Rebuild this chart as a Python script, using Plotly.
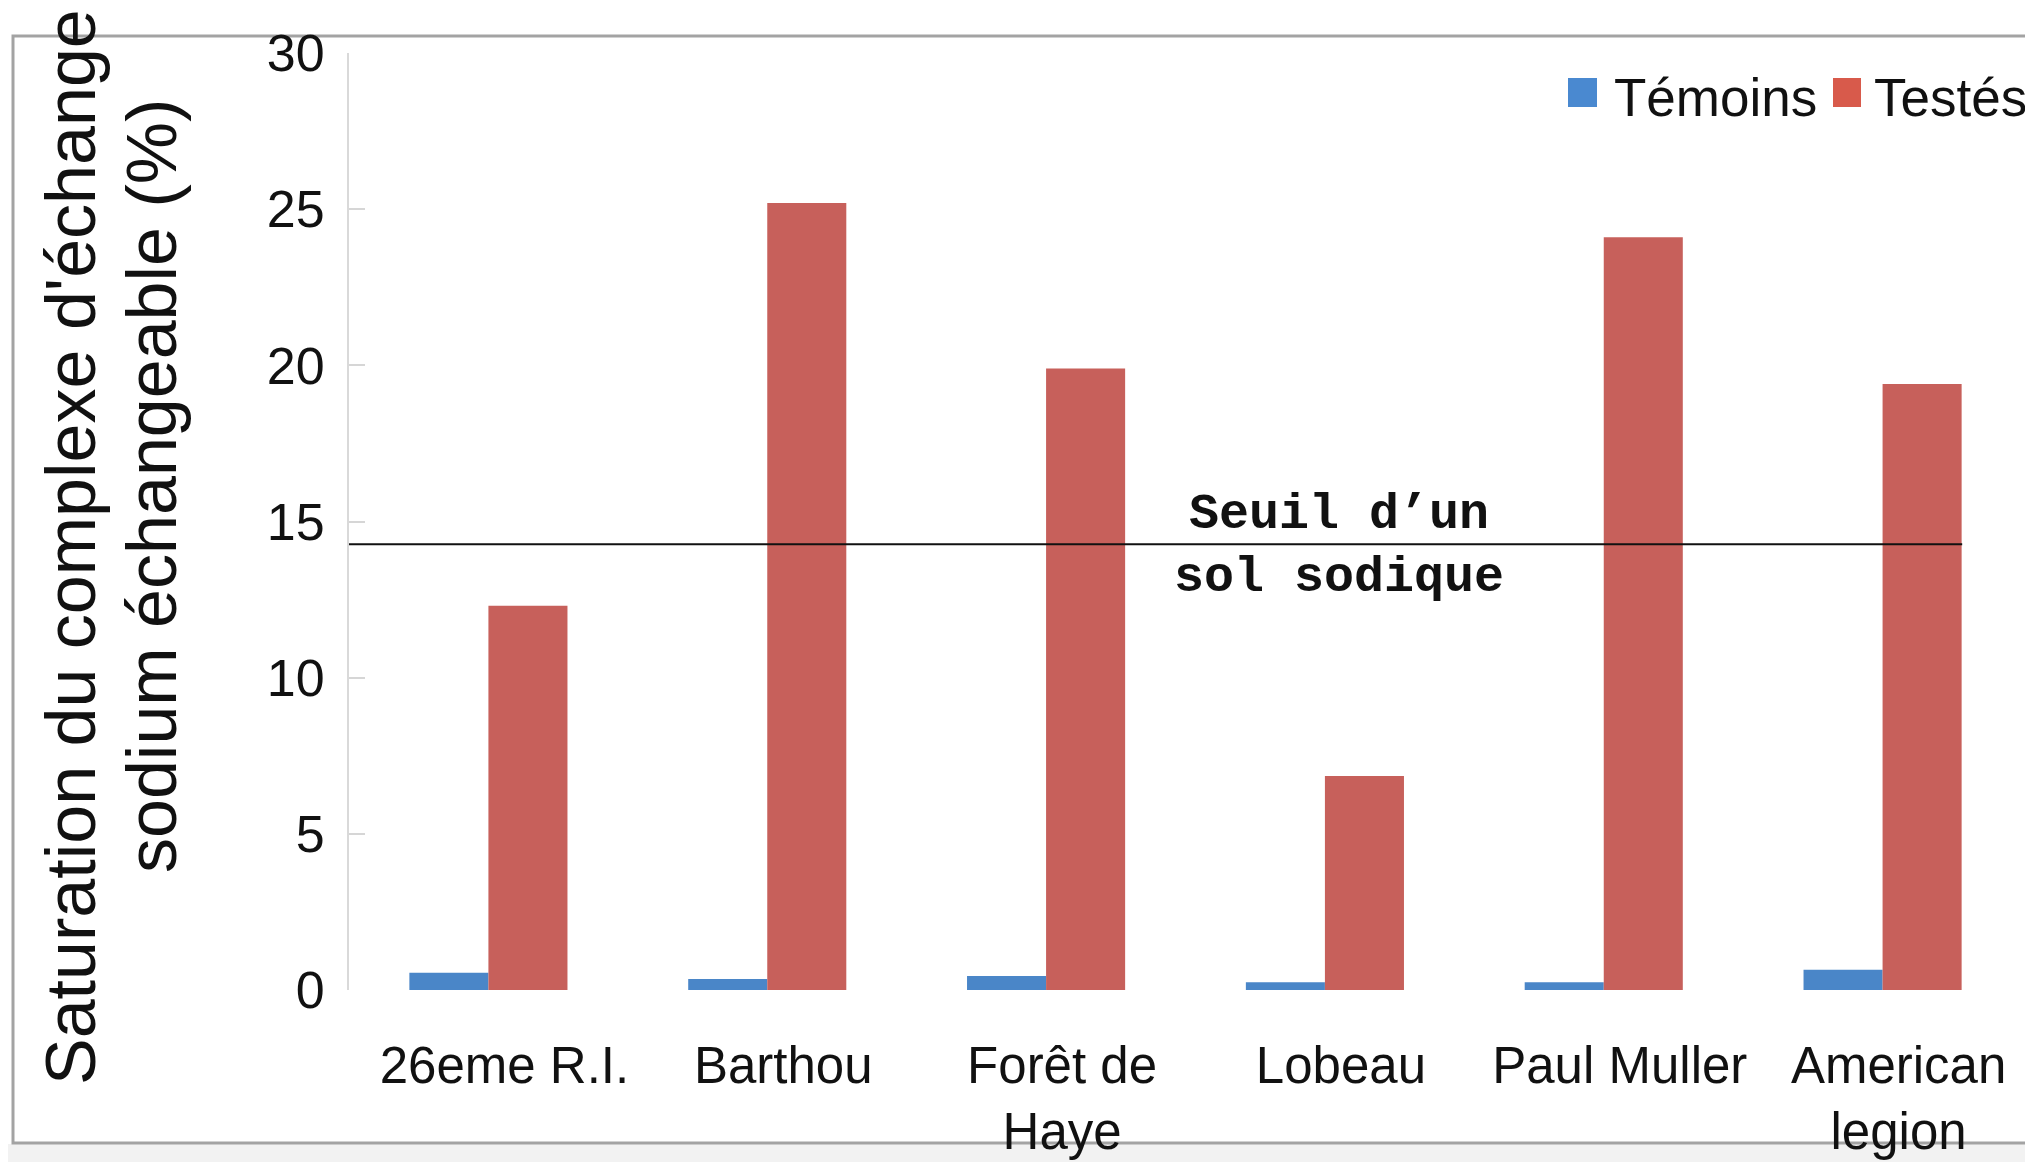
import plotly.graph_objects as go

categories = ["26eme R.I.", "Barthou", "Forêt de<br>Haye", "Lobeau", "Paul Muller", "American<br>legion"]
temoins = [0.55, 0.35, 0.45, 0.25, 0.25, 0.65]
testes = [12.3, 25.2, 19.9, 6.85, 24.1, 19.4]
series_names = ["Témoins", "Testés"]
threshold = 14.27
threshold_label = ["Seuil d’un", "sol sodique"]
y_ticks = [0, 5, 10, 15, 20, 25, 30]
y_title_lines = ["Saturation du complexe d'échange", "sodium échangeable (%)"]

BLUE = "#4A86C8"
RED = "#C7605B"
FONT = "Liberation Sans, Arial, sans-serif"

# page body has an 8px default margin; lay out in screen pixels and compensate
OFF = 8
W, H = 2033 - OFF, 1162 - OFF
SL, SR, ST, SB = 349, 2022, 53, 990  # plot area in screen pixels
L, T = SL - OFF, ST - OFF
R = W - (SR - OFF)
B = H - (SB - OFF)
pw, ph = SR - SL, SB - ST


def px(xs):
    return (xs - SL) / pw


def py(ys):
    return (SB - ys) / ph


fig = go.Figure()
fig.add_trace(go.Bar(x=categories, y=temoins, name=series_names[0],
                     marker=dict(color=BLUE, line=dict(width=0)), showlegend=False))
fig.add_trace(go.Bar(x=categories, y=testes, name=series_names[1],
                     marker=dict(color=RED, line=dict(width=0)), showlegend=False))

shapes = []
shapes.append(dict(type="rect", xref="paper", yref="paper", x0=px(-10), x1=px(2045),
                   y0=py(1175), y1=py(1144), fillcolor="#f2f2f2", line=dict(width=0), layer="below"))
shapes.append(dict(type="rect", xref="paper", yref="paper", x0=px(13), x1=px(2028),
                   y0=py(1143), y1=py(36), line=dict(color="#a3a3a3", width=3), layer="below"))
shapes.append(dict(type="line", xref="x", yref="y", x0=-0.751, x1=5.2855, y0=threshold, y1=threshold,
                   line=dict(color="#111111", width=2), layer="above"))
shapes.append(dict(type="rect", xref="paper", yref="paper", x0=px(1568), x1=px(1597),
                   y0=py(107), y1=py(78), fillcolor="#4A89D0", line=dict(width=0)))
shapes.append(dict(type="rect", xref="paper", yref="paper", x0=px(1833), x1=px(1861),
                   y0=py(107), y1=py(78), fillcolor="#D85A4B", line=dict(width=0)))

annotations = []
annotations.append(dict(text=series_names[0], xref="paper", yref="paper", x=px(1612), y=py(97),
                        xanchor="left", yanchor="middle", showarrow=False,
                        font=dict(family=FONT, size=53, color="#111111")))
annotations.append(dict(text=series_names[1], xref="paper", yref="paper", x=px(1872), y=py(97),
                        xanchor="left", yanchor="middle", showarrow=False,
                        font=dict(family=FONT, size=53, color="#111111")))
annotations.append(dict(text="<b>" + threshold_label[0] + "</b>", xref="x", yref="y", x=3.05, y=15.21,
                        xanchor="center", yanchor="middle", showarrow=False,
                        font=dict(family="Liberation Mono, Courier New, monospace", size=50, color="#111111")))
annotations.append(dict(text="<b>" + threshold_label[1] + "</b>", xref="x", yref="y", x=3.05, y=13.22,
                        xanchor="center", yanchor="middle", showarrow=False,
                        font=dict(family="Liberation Mono, Courier New, monospace", size=50, color="#111111")))
annotations.append(dict(text=y_title_lines[0], xref="paper", yref="paper", x=px(71), y=py(547),
                        xanchor="center", yanchor="middle", textangle=-90, showarrow=False,
                        font=dict(family=FONT, size=70, color="#111111")))
annotations.append(dict(text=y_title_lines[1], xref="paper", yref="paper", x=px(152), y=py(486),
                        xanchor="center", yanchor="middle", textangle=-90, showarrow=False,
                        font=dict(family=FONT, size=70, color="#111111")))

fig.update_layout(
    width=W, height=H,
    margin=dict(l=L, r=R, t=T, b=B, pad=0, autoexpand=False),
    paper_bgcolor="white", plot_bgcolor="white",
    barmode="group", bargap=0.433, bargroupgap=0,
    shapes=shapes, annotations=annotations,
    showlegend=False,
    xaxis=dict(showgrid=False, showline=False, zeroline=False, ticks="", automargin=False,
               tickfont=dict(family=FONT, size=51, color="#111111"),
               ticklabelstandoff=41, ticklabelshift=16, range=[-0.5, 5.5]),
    yaxis=dict(range=[0, 30], tickvals=y_ticks, showgrid=False, zeroline=False, automargin=False,
               showline=True, linecolor="#d9d9d9", linewidth=2,
               ticks="inside", ticklen=16, tickwidth=2, tickcolor="#d6d6d6",
               tickfont=dict(family=FONT, size=52, color="#111111"),
               ticklabelstandoff=12),
)

fig.write_html("out.html")
